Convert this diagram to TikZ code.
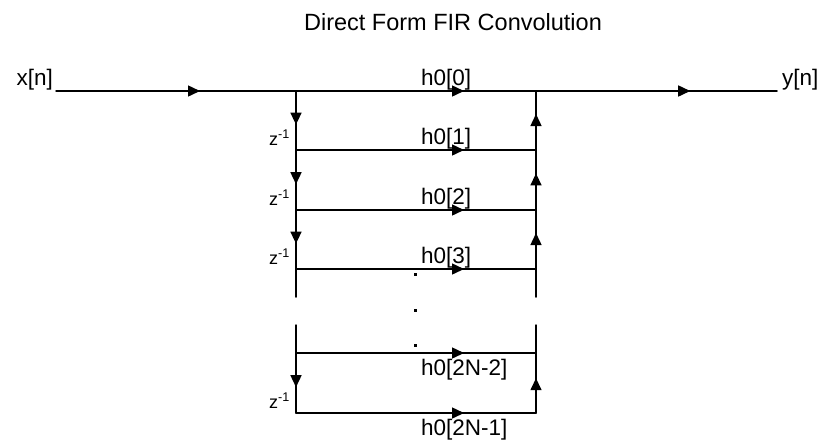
\documentclass[tikz,border=0pt]{standalone}
\usepackage{fontspec}
\setmainfont{Liberation Sans}
\usetikzlibrary{arrows.meta, decorations.markings}

\begin{document}
\begin{tikzpicture}[x=1pt, y=-1pt, line cap=round, line join=round,
    wire/.style={line width=1.5pt, black},
    arrowat/.style={postaction={decorate}, decoration={markings, mark=at position #1 with {\arrow{Triangle[length=12pt, width=11pt]}}}},
    sig/.style={font=\fontsize{22.5}{26}\selectfont, inner sep=0pt},
    delay/.style={font=\fontsize{18}{21}\selectfont, inner sep=0pt, anchor=base east},
    dotmark/.style={fill=black, minimum size=3pt, inner sep=0pt}]
      \useasboundingbox (0,0) rectangle (822,440);

      % Titel
      \node[font=\fontsize{23.5}{28}\selectfont] (title) at (453,22) {Direct Form FIR Convolution};

      % Knoten
      \coordinate (xin) at (56,91);
      \coordinate (yout) at (777,91);
      \coordinate (a0) at (296,91);  \coordinate (b0) at (536,91);
      \coordinate (a1) at (296,150); \coordinate (b1) at (536,150);
      \coordinate (a2) at (296,210); \coordinate (b2) at (536,210);
      \coordinate (a3) at (296,269); \coordinate (b3) at (536,269);
      \coordinate (a3e) at (296,297); \coordinate (b3e) at (536,297);
      \coordinate (a4s) at (296,325); \coordinate (b4s) at (536,325);
      \coordinate (a4) at (296,353); \coordinate (b4) at (536,353);
      \coordinate (a5) at (296,413); \coordinate (b5) at (536,413);

      % Ein- und Ausgang
      \draw[wire, arrowat=0.6] (xin) -- (a0);
      \draw[wire, arrowat=0.7] (a0) -- (b0);
      \draw[wire, arrowat=0.64] (b0) -- (yout);
      \node[sig, anchor=base east] (xlab) at (53,85) {x[n]};
      \node[sig, anchor=base west] (ylab) at (782,85) {y[n]};

      % Verzoegerungskette
      \draw[wire, arrowat=0.57] (a0) -- (a1);
      \draw[wire, arrowat=0.57] (a1) -- (a2);
      \draw[wire, arrowat=0.57] (a2) -- (a3);
      \draw[wire] (a3) -- (a3e);
      \draw[wire] (a4s) -- (a4);
      \draw[wire, arrowat=0.57] (a4) -- (a5);
      \node[delay] (z1) at (290,145) {z\textsuperscript{-1}};
      \node[delay] (z2) at (290,205) {z\textsuperscript{-1}};
      \node[delay] (z3) at (290,264) {z\textsuperscript{-1}};
      \node[delay] (z4) at (290,408) {z\textsuperscript{-1}};

      % Abgriffe
      \draw[wire, arrowat=0.7] (a1) -- (b1);
      \draw[wire, arrowat=0.7] (a2) -- (b2);
      \draw[wire, arrowat=0.7] (a3) -- (b3);
      \draw[wire, arrowat=0.7] (a4) -- (b4);
      \draw[wire, arrowat=0.7] (a5) -- (b5);
      \node[sig, anchor=base west] (h0) at (421,85.5) {h0[0]};
      \node[sig, anchor=base west] (h1) at (421,144.5) {h0[1]};
      \node[sig, anchor=base west] (h2) at (421,204.5) {h0[2]};
      \node[sig, anchor=base west] (h3) at (421,263.5) {h0[3]};
      \node[sig, anchor=base west] (h4) at (421,375) {h0[2N-2]};
      \node[sig, anchor=base west] (h5) at (421,435) {h0[2N-1]};

      % Summation
      \draw[wire, arrowat=0.61] (b1) -- (b0);
      \draw[wire, arrowat=0.61] (b2) -- (b1);
      \draw[wire, arrowat=0.61] (b3) -- (b2);
      \draw[wire] (b3e) -- (b3);
      \draw[wire] (b4s) -- (b4);
      \draw[wire, arrowat=0.58] (b5) -- (b4);

      % Punkte
      \node[dotmark] (d1) at (415,274) {};
      \node[dotmark] (d2) at (415,310) {};
      \node[dotmark] (d3) at (415,345) {};
\end{tikzpicture}
\end{document}
